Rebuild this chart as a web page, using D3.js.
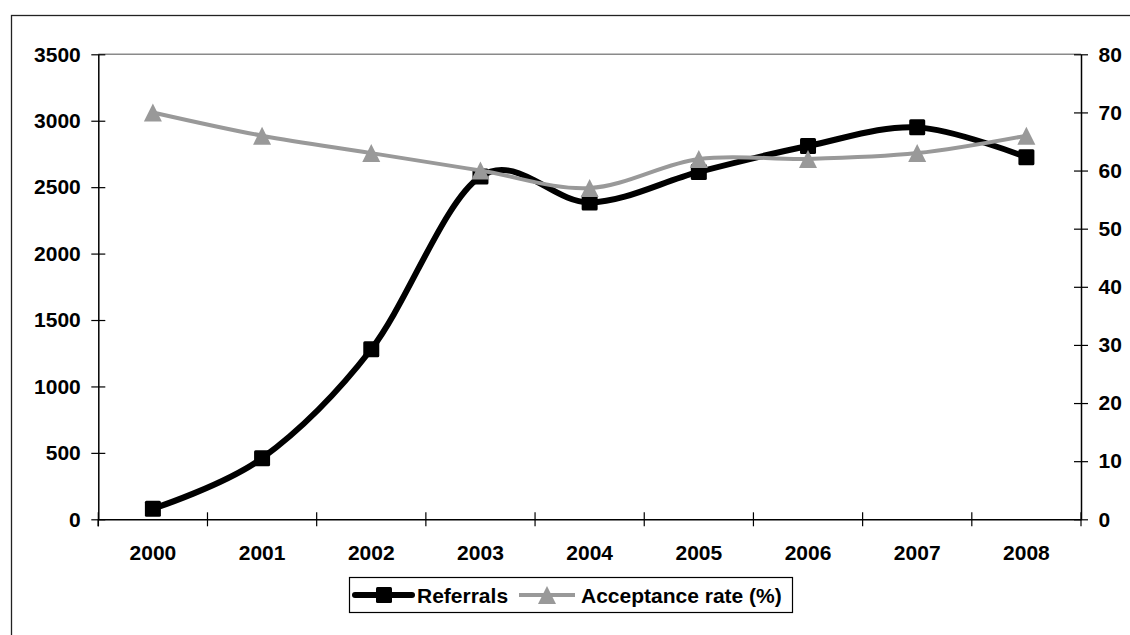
<!DOCTYPE html>
<html>
<head>
<meta charset="utf-8">
<script src="https://cdn.jsdelivr.net/npm/d3@7/dist/d3.min.js"></script>
<style>
  html, body { margin: 0; padding: 0; background: #fff; }
  svg { display: block; }
  text { font-family: "Liberation Sans", Arial, sans-serif; font-weight: bold; fill: #000; }
</style>
</head>
<body>
<svg id="chart" width="1130" height="635"></svg>
<script>
// ---- data ----
const years = ["2000", "2001", "2002", "2003", "2004", "2005", "2006", "2007", "2008"];
const referrals = [80, 460, 1280, 2580, 2385, 2615, 2810, 2950, 2725];
const acceptance = [70, 66, 63, 60, 57, 62, 62, 63, 66];
const leftTicks = [0, 500, 1000, 1500, 2000, 2500, 3000, 3500];
const rightTicks = [0, 10, 20, 30, 40, 50, 60, 70, 80];
const seriesNames = ["Referrals", "Acceptance rate (%)"];

// ---- layout ----
const W = 1130, H = 635;
const plot = { left: 98.3, right: 1081, top: 54.3, bottom: 519.3 };
const fontSize = 21;
const black = "#000", grey = "#999999";

const svg = d3.select("#chart");

// outer chart border (extends past the picture on right/bottom)
svg.append("rect")
  .attr("x", 11.5).attr("y", 15.5)
  .attr("width", 1200).attr("height", 700)
  .attr("fill", "#fff").attr("stroke", "#222").attr("stroke-width", 1.3);

const x = d3.scaleBand().domain(years).range([plot.left, plot.right]).padding(0);
const yL = d3.scaleLinear().domain([0, 3500]).range([plot.bottom, plot.top]);
const yR = d3.scaleLinear().domain([0, 80]).range([plot.bottom, plot.top]);

// plot area border (grey top)
svg.append("line")
  .attr("x1", plot.left).attr("x2", plot.right)
  .attr("y1", plot.top).attr("y2", plot.top)
  .attr("stroke", "#8a8a8a").attr("stroke-width", 1.5);

// left axis
const gL = svg.append("g").attr("transform", `translate(${plot.left},0)`)
  .call(d3.axisLeft(yL).tickValues(leftTicks).tickSize(7).tickSizeOuter(0).tickPadding(10.5).tickFormat(d3.format("d")));
gL.selectAll(".tick line").attr("x1", 7).attr("x2", -7);

// right axis
const gR = svg.append("g").attr("transform", `translate(${plot.right},0)`)
  .call(d3.axisRight(yR).tickValues(rightTicks).tickSize(7).tickSizeOuter(0).tickPadding(10.5).tickFormat(d3.format("d")));
gR.selectAll(".tick line").attr("x1", -7).attr("x2", 7);

// bottom axis (labels at category centres, tick marks at boundaries)
const gB = svg.append("g").attr("transform", `translate(0,${plot.bottom})`)
  .call(d3.axisBottom(x).tickSize(0).tickSizeOuter(0).tickPadding(41));
gB.selectAll(".tick text").attr("dy", "0");
const boundaries = years.map(d => x(d)).concat([x(years[years.length - 1]) + x.bandwidth()]);
gB.selectAll("line.bt").data(boundaries).enter().append("line")
  .attr("class", "bt")
  .attr("x1", d => d).attr("x2", d => d)
  .attr("y1", -7).attr("y2", 7)
  .attr("stroke", black).attr("stroke-width", 1.2);

[gL, gR, gB].forEach(g => {
  g.selectAll("text").attr("font-size", fontSize).attr("font-family", "Liberation Sans, Arial, sans-serif").attr("font-weight", "bold").attr("fill", "#000");
  g.selectAll(".domain").attr("stroke", black).attr("stroke-width", 1.5);
  g.selectAll(".tick line").attr("stroke", black).attr("stroke-width", 1.2);
  g.attr("font-size", null).attr("font-family", null);
});
// small axis overhang at bottom corner
svg.append("line").attr("x1", plot.left).attr("x2", plot.left).attr("y1", plot.bottom).attr("y2", plot.bottom + 7).attr("stroke", black).attr("stroke-width", 1.5);

const cx = d => x(d) + x.bandwidth() / 2;

// referrals line
const lineRef = d3.line().x((d, i) => cx(years[i])).y(d => yL(d)).curve(d3.curveCatmullRom.alpha(0));
svg.append("path").datum(referrals)
  .attr("d", lineRef).attr("fill", "none")
  .attr("stroke", black).attr("stroke-width", 6).attr("stroke-linejoin", "round").attr("stroke-linecap", "round");
const sq = 16;
svg.selectAll("rect.sq").data(referrals).enter().append("rect")
  .attr("class", "sq")
  .attr("x", (d, i) => cx(years[i]) - sq / 2).attr("y", d => yL(d) - sq / 2)
  .attr("width", sq).attr("height", sq).attr("rx", 1.5).attr("fill", black);

// acceptance line
const lineAcc = d3.line().x((d, i) => cx(years[i])).y(d => yR(d)).curve(d3.curveCatmullRom.alpha(0));
svg.append("path").datum(acceptance)
  .attr("d", lineAcc).attr("fill", "none")
  .attr("stroke", grey).attr("stroke-width", 4).attr("stroke-linejoin", "round");
const triW = 18, triH = 18;
const triPath = (px, py) => `M${px},${py - triH / 2}L${px + triW / 2},${py + triH / 2}L${px - triW / 2},${py + triH / 2}Z`;
svg.selectAll("path.tri").data(acceptance).enter().append("path")
  .attr("class", "tri")
  .attr("d", (d, i) => triPath(cx(years[i]), yR(d)))
  .attr("fill", grey);

// legend
const lg = svg.append("g");
lg.append("rect").attr("x", 349.5).attr("y", 577.5).attr("width", 443).attr("height", 35)
  .attr("fill", "#fff").attr("stroke", black).attr("stroke-width", 1.2);
const ly = 595;
lg.append("line").attr("x1", 355).attr("x2", 412).attr("y1", ly).attr("y2", ly)
  .attr("stroke", black).attr("stroke-width", 6).attr("stroke-linecap", "round");
lg.append("rect").attr("x", 384 - sq / 2).attr("y", ly - sq / 2).attr("width", sq).attr("height", sq).attr("rx", 1.5).attr("fill", black);
lg.append("text").attr("x", 417).attr("y", 603).attr("font-size", fontSize).text(seriesNames[0]);
lg.append("line").attr("x1", 519).attr("x2", 575).attr("y1", ly).attr("y2", ly)
  .attr("stroke", grey).attr("stroke-width", 4);
lg.append("path").attr("d", triPath(547, ly)).attr("fill", grey);
lg.append("text").attr("x", 581).attr("y", 603).attr("font-size", fontSize).text(seriesNames[1]);
</script>
</body>
</html>
